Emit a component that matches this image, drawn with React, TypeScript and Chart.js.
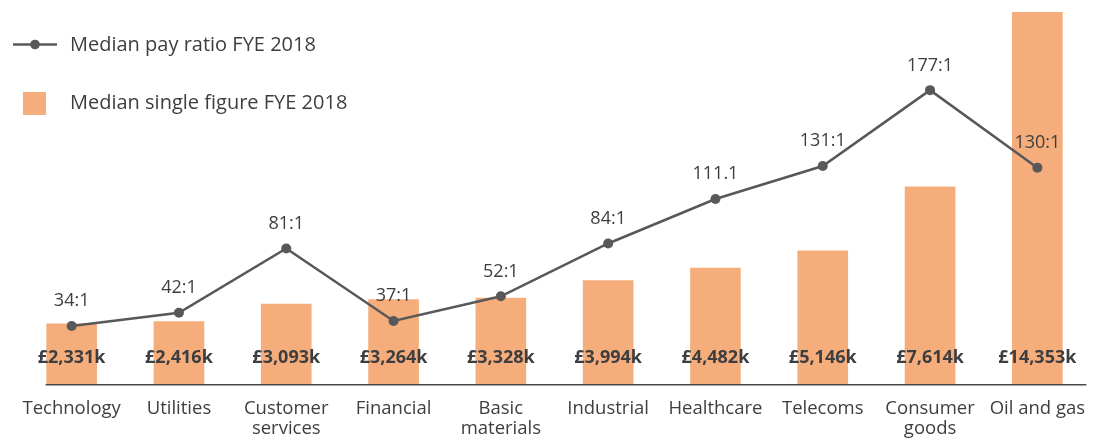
import React, { useEffect, useRef } from "react";
import { Chart, registerables } from "chart.js";

Chart.register(...registerables);

const categories: (string | string[])[] = [
  "Technology",
  "Utilities",
  ["Customer", "services"],
  "Financial",
  ["Basic", "materials"],
  "Industrial",
  "Healthcare",
  "Telecoms",
  ["Consumer", "goods"],
  "Oil and gas",
];

const singleFigure = [2331, 2416, 3093, 3264, 3328, 3994, 4482, 5146, 7614, 14353];
const singleFigureLabels = ["£2,331k", "£2,416k", "£3,093k", "£3,264k", "£3,328k", "£3,994k", "£4,482k", "£5,146k", "£7,614k", "£14,353k"];

const payRatio = [34, 42, 81, 37, 52, 84, 111, 131, 177, 130];
const payRatioLabels = ["34:1", "42:1", "81:1", "37:1", "52:1", "84:1", "111.1", "131:1", "177:1", "130:1"];

const legendLabels = ["Median pay ratio FYE 2018", "Median single figure FYE 2018"];

const BAR_COLOR = "#F5AE7B";
const LINE_COLOR = "#58585A";
const TEXT_COLOR = "#3E3E40";
const FONT = "'Open Sans', sans-serif";

const labelsPlugin = {
  id: "customLabels",
  afterDatasetsDraw(chart: any) {
    const ctx = chart.ctx;
    const area = chart.chartArea;
    ctx.save();
    // axis line
    const barMeta = chart.getDatasetMeta(1);
    const firstBar = barMeta.data[0];
    const lastBar = barMeta.data[barMeta.data.length - 1];
    const x0 = firstBar.x - firstBar.width / 2 - 1;
    const x1 = lastBar.x + lastBar.width / 2 + 24;
    ctx.strokeStyle = "#4A4A4C";
    ctx.lineWidth = 1.6;
    ctx.beginPath();
    ctx.moveTo(x0, area.bottom + 0.5);
    ctx.lineTo(x1, area.bottom + 0.5);
    ctx.stroke();

    // bar labels
    ctx.fillStyle = TEXT_COLOR;
    ctx.font = `bold 18px ${FONT}`;
    ctx.textAlign = "center";
    ctx.textBaseline = "alphabetic";
    barMeta.data.forEach((el: any, i: number) => {
      ctx.fillText(singleFigureLabels[i], el.x, area.bottom - 21);
    });

    // line labels
    const lineMeta = chart.getDatasetMeta(0);
    ctx.font = `18px ${FONT}`;
    lineMeta.data.forEach((el: any, i: number) => {
      ctx.fillText(payRatioLabels[i], el.x, el.y - 19.5);
    });

    // legend
    ctx.strokeStyle = LINE_COLOR;
    ctx.lineWidth = 2.5;
    ctx.beginPath();
    ctx.moveTo(13, 44.5);
    ctx.lineTo(57, 44.5);
    ctx.stroke();
    ctx.fillStyle = LINE_COLOR;
    ctx.beginPath();
    ctx.arc(35, 44.5, 4.8, 0, Math.PI * 2);
    ctx.fill();
    ctx.fillStyle = BAR_COLOR;
    ctx.fillRect(23, 92, 23, 23);
    ctx.fillStyle = TEXT_COLOR;
    ctx.font = `20px ${FONT}`;
    ctx.textAlign = "left";
    ctx.textBaseline = "middle";
    ctx.fillText(legendLabels[0], 70, 45.5);
    ctx.fillText(legendLabels[1], 70, 103.5);
    ctx.restore();
  },
};

export default function App() {
  const canvasRef = useRef<HTMLCanvasElement | null>(null);

  useEffect(() => {
    if (!canvasRef.current) return;
    const chart = new Chart(canvasRef.current, {
      type: "bar",
      data: {
        labels: categories,
        datasets: [
          {
            type: "line",
            label: legendLabels[0],
            data: payRatio,
            yAxisID: "y1",
            borderColor: LINE_COLOR,
            backgroundColor: LINE_COLOR,
            borderWidth: 2.5,
            pointRadius: 5,
            pointBackgroundColor: LINE_COLOR,
            pointBorderWidth: 0,
            tension: 0,
            order: 0,
          } as any,
          {
            type: "bar",
            label: legendLabels[1],
            data: singleFigure,
            yAxisID: "y",
            backgroundColor: BAR_COLOR,
            barThickness: 50,
            order: 1,
          },
        ],
      },
      options: {
        responsive: false,
        animation: false,
        layout: { padding: { left: 18, right: 1, top: 12, bottom: 0 } },
        plugins: {
          legend: { display: false },
          tooltip: { enabled: false },
        },
        scales: {
          x: {
            offset: true,
            grid: { display: false, drawTicks: true, tickLength: 14 },
            border: { display: false },
            ticks: {
              autoSkip: false,
              maxRotation: 0,
              minRotation: 0,
              padding: 0,
              color: TEXT_COLOR,
              font: { family: FONT, size: 18.5, lineHeight: 1.1 },
            },
          },
          y: {
            display: false,
            min: 0,
            max: 14353,
          },
          y1: {
            display: false,
            min: -1.4,
            max: 224.4,
          },
        },
      },
      plugins: [labelsPlugin],
    });
    return () => chart.destroy();
  }, []);

  return (
    <div
      style={{
        position: "fixed",
        left: 0,
        top: 0,
        width: 1096,
        height: 438,
        overflow: "hidden",
        background: "#ffffff",
      }}
    >
      <canvas ref={canvasRef} width={1096} height={439} style={{ width: 1096, height: 439, display: "block" }} />
    </div>
  );
}
